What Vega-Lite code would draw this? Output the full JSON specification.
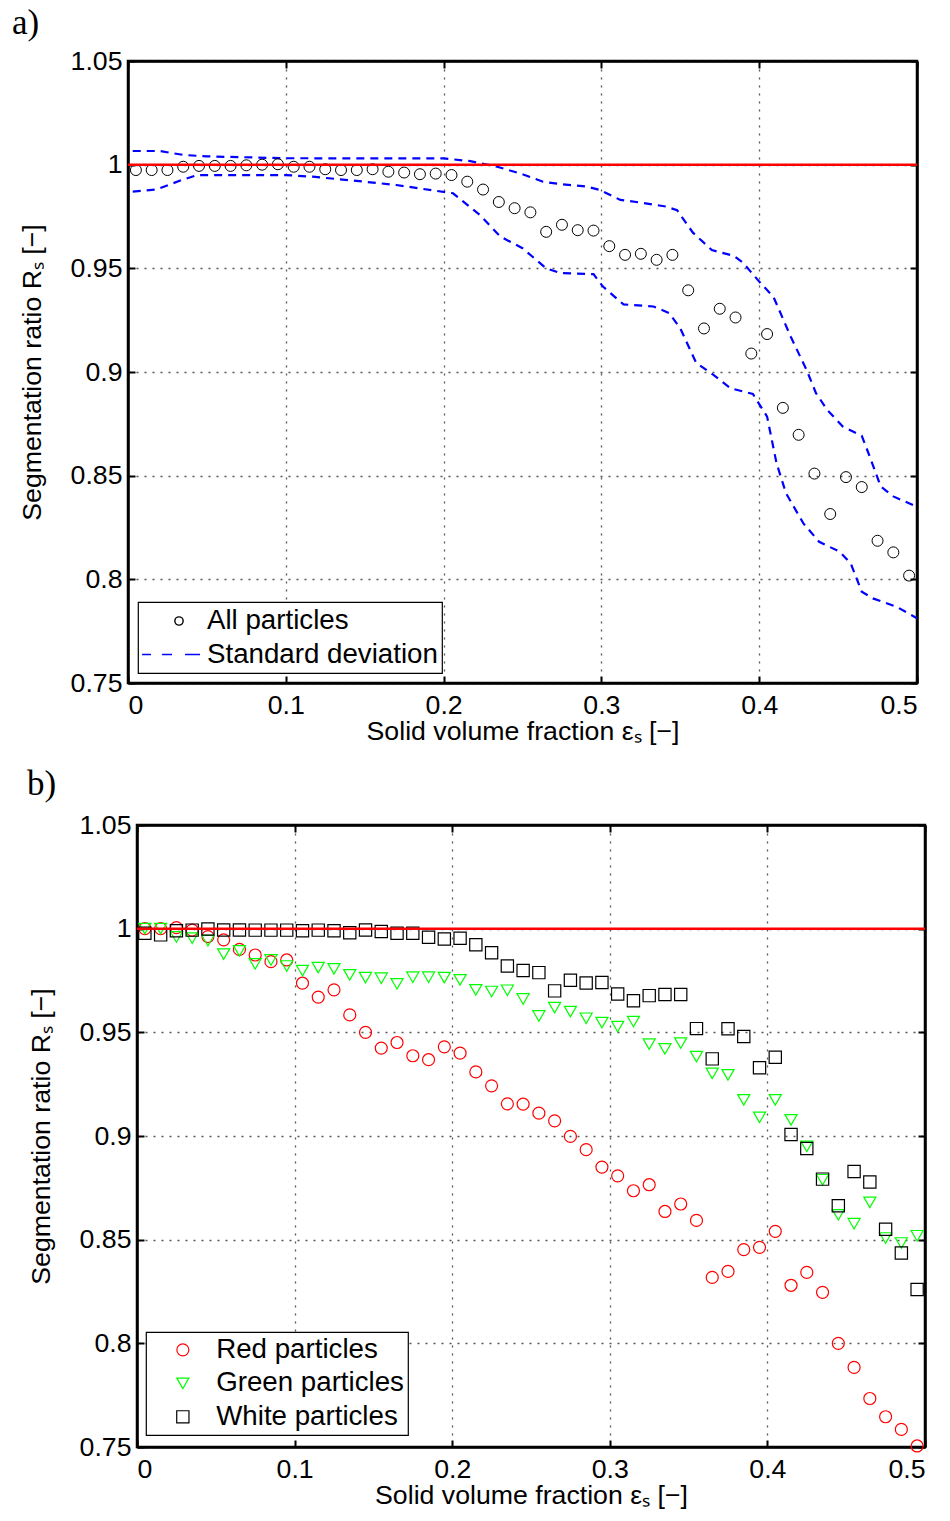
{
  "$schema": "https://vega.github.io/schema/vega-lite/v6.json",
  "background": "white",
  "padding": {"left": 9, "top": 4, "right": 10, "bottom": 6},
  "columns": 1,
  "spacing": 18,
  "resolve": {
    "scale": {"color": "independent", "shape": "independent", "size": "independent"},
    "legend": {"color": "independent", "shape": "independent", "size": "independent"}
  },
  "datasets": {
    "a_pts": [
      {"x":0.005,"y":0.9974},{"x":0.015,"y":0.9974},{"x":0.025,"y":0.9974},{"x":0.035,"y":0.999},{"x":0.045,"y":0.9994},
      {"x":0.055,"y":0.9994},{"x":0.065,"y":0.9994},{"x":0.075,"y":0.9997},{"x":0.085,"y":1.0},{"x":0.095,"y":1.0002},
      {"x":0.105,"y":0.999},{"x":0.115,"y":0.999},{"x":0.125,"y":0.9978},{"x":0.135,"y":0.9974},{"x":0.145,"y":0.9974},
      {"x":0.155,"y":0.9978},{"x":0.165,"y":0.9966},{"x":0.175,"y":0.9962},{"x":0.185,"y":0.9954},{"x":0.195,"y":0.9957},
      {"x":0.205,"y":0.995},{"x":0.215,"y":0.9918},{"x":0.225,"y":0.988},{"x":0.235,"y":0.982},{"x":0.245,"y":0.979},
      {"x":0.255,"y":0.977},{"x":0.265,"y":0.9676},{"x":0.275,"y":0.971},{"x":0.285,"y":0.9684},{"x":0.295,"y":0.9682},
      {"x":0.305,"y":0.9607},{"x":0.315,"y":0.9565},{"x":0.325,"y":0.957},{"x":0.335,"y":0.9541},{"x":0.345,"y":0.9565},
      {"x":0.355,"y":0.9394},{"x":0.365,"y":0.921},{"x":0.375,"y":0.9305},{"x":0.385,"y":0.9263},{"x":0.395,"y":0.9089},
      {"x":0.405,"y":0.9183},{"x":0.415,"y":0.8827},{"x":0.425,"y":0.8697},{"x":0.435,"y":0.851},{"x":0.445,"y":0.8315},
      {"x":0.455,"y":0.8493},{"x":0.465,"y":0.8445},{"x":0.475,"y":0.8186},{"x":0.485,"y":0.813},{"x":0.495,"y":0.8018}
    ],
    "a_std": [
      {"x":0.003,"y":1.0066,"bound":"upper"},{"x":0.02,"y":1.0066,"bound":"upper"},{"x":0.035,"y":1.0047,"bound":"upper"},
      {"x":0.05,"y":1.004,"bound":"upper"},{"x":0.1,"y":1.0031,"bound":"upper"},{"x":0.2,"y":1.003,"bound":"upper"},
      {"x":0.217,"y":1.0017,"bound":"upper"},{"x":0.234,"y":0.999,"bound":"upper"},{"x":0.248,"y":0.9959,"bound":"upper"},
      {"x":0.263,"y":0.9918,"bound":"upper"},{"x":0.274,"y":0.9906,"bound":"upper"},{"x":0.291,"y":0.9894,"bound":"upper"},
      {"x":0.299,"y":0.9878,"bound":"upper"},{"x":0.312,"y":0.983,"bound":"upper"},{"x":0.325,"y":0.9817,"bound":"upper"},
      {"x":0.341,"y":0.9798,"bound":"upper"},{"x":0.348,"y":0.978,"bound":"upper"},{"x":0.358,"y":0.9672,"bound":"upper"},
      {"x":0.37,"y":0.9588,"bound":"upper"},{"x":0.384,"y":0.956,"bound":"upper"},{"x":0.39,"y":0.9525,"bound":"upper"},
      {"x":0.4,"y":0.9436,"bound":"upper"},{"x":0.409,"y":0.9363,"bound":"upper"},{"x":0.42,"y":0.917,"bound":"upper"},
      {"x":0.43,"y":0.901,"bound":"upper"},{"x":0.436,"y":0.8898,"bound":"upper"},{"x":0.443,"y":0.8818,"bound":"upper"},
      {"x":0.453,"y":0.8737,"bound":"upper"},{"x":0.465,"y":0.8692,"bound":"upper"},{"x":0.47,"y":0.8593,"bound":"upper"},
      {"x":0.477,"y":0.8448,"bound":"upper"},{"x":0.485,"y":0.84,"bound":"upper"},{"x":0.5,"y":0.835,"bound":"upper"},
      {"x":0.003,"y":0.987,"bound":"lower"},{"x":0.018,"y":0.988,"bound":"lower"},{"x":0.034,"y":0.9926,"bound":"lower"},
      {"x":0.044,"y":0.995,"bound":"lower"},{"x":0.1,"y":0.995,"bound":"lower"},{"x":0.117,"y":0.9942,"bound":"lower"},
      {"x":0.143,"y":0.9923,"bound":"lower"},{"x":0.17,"y":0.9902,"bound":"lower"},{"x":0.194,"y":0.9875,"bound":"lower"},
      {"x":0.206,"y":0.9862,"bound":"lower"},{"x":0.223,"y":0.9757,"bound":"lower"},{"x":0.236,"y":0.9653,"bound":"lower"},
      {"x":0.25,"y":0.9597,"bound":"lower"},{"x":0.265,"y":0.95,"bound":"lower"},{"x":0.274,"y":0.9477,"bound":"lower"},
      {"x":0.295,"y":0.9472,"bound":"lower"},{"x":0.301,"y":0.9412,"bound":"lower"},{"x":0.314,"y":0.9326,"bound":"lower"},
      {"x":0.333,"y":0.9316,"bound":"lower"},{"x":0.343,"y":0.9284,"bound":"lower"},{"x":0.35,"y":0.921,"bound":"lower"},
      {"x":0.36,"y":0.9045,"bound":"lower"},{"x":0.371,"y":0.8986,"bound":"lower"},{"x":0.382,"y":0.8921,"bound":"lower"},
      {"x":0.396,"y":0.8894,"bound":"lower"},{"x":0.405,"y":0.8785,"bound":"lower"},{"x":0.411,"y":0.856,"bound":"lower"},
      {"x":0.417,"y":0.8415,"bound":"lower"},{"x":0.428,"y":0.827,"bound":"lower"},{"x":0.438,"y":0.8181,"bound":"lower"},
      {"x":0.451,"y":0.8133,"bound":"lower"},{"x":0.458,"y":0.8077,"bound":"lower"},{"x":0.465,"y":0.794,"bound":"lower"},
      {"x":0.472,"y":0.7908,"bound":"lower"},{"x":0.487,"y":0.7868,"bound":"lower"},{"x":0.5,"y":0.7812,"bound":"lower"}
    ],
    "b_pts": [
      {"x":0.005,"r":1.0,"g":1.0,"w":0.9978},{"x":0.015,"r":1.0,"g":1.0,"w":0.997},{"x":0.025,"r":1.0005,"g":0.996,"w":0.999},
      {"x":0.035,"r":0.9993,"g":0.9954,"w":0.9993},{"x":0.045,"r":0.9962,"g":0.9942,"w":0.9998},{"x":0.055,"r":0.9946,"g":0.9877,"w":0.9994},
      {"x":0.065,"r":0.99,"g":0.9893,"w":0.9994},{"x":0.075,"r":0.9873,"g":0.983,"w":0.9993},{"x":0.085,"r":0.9841,"g":0.9849,"w":0.9993},
      {"x":0.095,"r":0.9849,"g":0.982,"w":0.9993},{"x":0.105,"r":0.9737,"g":0.9798,"w":0.999},{"x":0.115,"r":0.967,"g":0.9812,"w":0.9993},
      {"x":0.125,"r":0.9705,"g":0.9806,"w":0.999},{"x":0.135,"r":0.9584,"g":0.9777,"w":0.998},{"x":0.145,"r":0.95,"g":0.9764,"w":0.9994},
      {"x":0.155,"r":0.9424,"g":0.9761,"w":0.9986},{"x":0.165,"r":0.9451,"g":0.9734,"w":0.9978},{"x":0.175,"r":0.9387,"g":0.9766,"w":0.9978},
      {"x":0.185,"r":0.9368,"g":0.9766,"w":0.9959},{"x":0.195,"r":0.943,"g":0.9764,"w":0.995},{"x":0.205,"r":0.94,"g":0.9753,"w":0.9954},
      {"x":0.215,"r":0.9309,"g":0.9705,"w":0.9922},{"x":0.225,"r":0.9242,"g":0.9697,"w":0.9884},{"x":0.235,"r":0.9155,"g":0.9703,"w":0.982},
      {"x":0.245,"r":0.9154,"g":0.9661,"w":0.9798},{"x":0.255,"r":0.911,"g":0.9579,"w":0.9788},{"x":0.265,"r":0.9073,"g":0.9619,"w":0.97},
      {"x":0.275,"r":0.8998,"g":0.96,"w":0.9751},{"x":0.285,"r":0.8934,"g":0.9568,"w":0.9738},{"x":0.295,"r":0.885,"g":0.9547,"w":0.974},
      {"x":0.305,"r":0.8808,"g":0.9528,"w":0.9685},{"x":0.315,"r":0.8736,"g":0.9552,"w":0.9652},{"x":0.325,"r":0.8765,"g":0.9443,"w":0.9677},
      {"x":0.335,"r":0.8636,"g":0.942,"w":0.9682},{"x":0.345,"r":0.8672,"g":0.9448,"w":0.9682},{"x":0.355,"r":0.8593,"g":0.9383,"w":0.9518},
      {"x":0.365,"r":0.8318,"g":0.9302,"w":0.9372},{"x":0.375,"r":0.8347,"g":0.9295,"w":0.9517},{"x":0.385,"r":0.8452,"g":0.9174,"w":0.948},
      {"x":0.395,"r":0.8463,"g":0.909,"w":0.9329},{"x":0.405,"r":0.854,"g":0.9174,"w":0.938},{"x":0.415,"r":0.828,"g":0.9078,"w":0.9007},
      {"x":0.425,"r":0.8342,"g":0.895,"w":0.894},{"x":0.435,"r":0.8246,"g":0.8789,"w":0.8792},{"x":0.445,"r":0.8,"g":0.862,"w":0.8664},
      {"x":0.455,"r":0.7884,"g":0.8577,"w":0.8829},{"x":0.465,"r":0.7734,"g":0.868,"w":0.8778},{"x":0.475,"r":0.7646,"g":0.8508,"w":0.855},
      {"x":0.485,"r":0.7585,"g":0.8484,"w":0.8436},{"x":0.495,"r":0.7505,"g":0.8519,"w":0.826}
    ],
    "ref": [{"y": 1}],
    "none": []
  },
  "config": {
    "font": "Liberation Sans",
    "view": {"stroke": "black", "strokeWidth": 2.5},
    "axis": {
      "labelFont": "Liberation Sans", "labelFontSize": 26.7, "labelColor": "black",
      "titleFont": "Liberation Sans", "titleFontSize": 26.7, "titleFontWeight": "normal", "titleColor": "black",
      "domainColor": "black", "domainWidth": 2.5,
      "tickColor": "black", "tickWidth": 2, "tickSize": -7,
      "gridColor": "#555555", "gridDash": [2, 6], "gridWidth": 1.3, "gridOpacity": 1
    },
    "axisX": {"labelPadding": 16, "titlePadding": 0},
    "axisY": {"labelPadding": 13, "titlePadding": 24},
    "legend": {
      "labelFont": "Liberation Sans", "labelFontSize": 27.7, "labelColor": "black", "labelLimit": 400,
      "strokeColor": "black", "strokeWidth": 1.2, "fillColor": "white", "padding": 4, "rowPadding": 4.5, "cornerRadius": 0
    },
    "title": {"anchor": "start", "frame": "bounds", "font": "Liberation Serif", "fontSize": 35, "fontWeight": "normal", "color": "black"}
  },
  "concat": [
    {
      "spacing": 0,
      "resolve": {
        "scale": {"color": "independent", "shape": "independent", "size": "independent"},
        "legend": {"color": "independent", "shape": "independent", "size": "independent"}
      },
      "hconcat": [
        {
          "width": 1, "height": 1,
          "view": {"stroke": null},
          "data": {"name": "none"},
          "mark": {"type": "point", "opacity": 0},
          "encoding": {}
        },
        {
          "title": {"text": "a)", "dx": -7, "offset": 7},
          "width": 789, "height": 622,
          "resolve": {"axis": {"x": "independent", "y": "independent"}},
          "layer": [
            {
              "data": {"name": "a_std"},
              "mark": {"type": "line", "color": "#0000FF", "strokeDash": [8, 6], "strokeWidth": 2.2, "clip": true},
              "encoding": {
                "x": {"field": "x", "type": "quantitative", "scale": {"domain": [0, 0.5], "nice": false, "zero": false}, "axis": {"values": [0, 0.1, 0.2, 0.3, 0.4, 0.5], "format": "~g", "title": "Solid volume fraction εₛ [−]"}},
                "y": {"field": "y", "type": "quantitative", "scale": {"domain": [0.75, 1.05], "nice": false, "zero": false}, "axis": {"values": [0.75, 0.8, 0.85, 0.9, 0.95, 1, 1.05], "format": "~g", "title": "Segmentation ratio Rₛ [−]"}},
                "detail": {"field": "bound", "type": "nominal"}
              }
            },
            {
              "data": {"name": "a_pts"},
              "transform": [{"calculate": "'All particles'", "as": "series"}],
              "mark": {"type": "point", "filled": false, "strokeWidth": 1, "size": 1381, "opacity": 1},
              "encoding": {
                "x": {"field": "x", "type": "quantitative", "axis": {"orient": "top", "values": [0, 0.1, 0.2, 0.3, 0.4, 0.5], "labels": false, "grid": false, "title": null}},
                "y": {"field": "y", "type": "quantitative", "axis": {"orient": "right", "values": [0.75, 0.8, 0.85, 0.9, 0.95, 1, 1.05], "labels": false, "grid": false, "title": null}},
                "color": {"field": "series", "type": "nominal", "scale": {"domain": ["All particles", "Standard deviation"], "range": ["black", "#0000FF"]},
                  "legend": {"title": null, "orient": "none", "legendX": 10, "legendY": 541, "symbolSize": 784, "symbolStrokeWidth": 1.4, "symbolOffset": 22, "labelOffset": 13}},
                "shape": {"field": "series", "type": "nominal", "scale": {"domain": ["All particles", "Standard deviation"], "range": ["M0.296,0A0.296,0.296,0,1,1,-0.296,0A0.296,0.296,0,1,1,0.296,0Z", "M-2.64,0H-2M-1.21,0H-0.5M0.43,0H1.5"]},
                  "legend": {"title": null, "orient": "none", "legendX": 10, "legendY": 541, "symbolSize": 784, "symbolStrokeWidth": 1.4, "symbolOffset": 22, "labelOffset": 13}}
              }
            },
            {
              "data": {"name": "ref"},
              "mark": {"type": "rule", "color": "#FF0000", "strokeWidth": 2.5},
              "encoding": {"y": {"field": "y", "type": "quantitative", "axis": null}}
            }
          ]
        }
      ]
    },
    {
      "spacing": 0,
      "resolve": {
        "scale": {"color": "independent", "shape": "independent", "size": "independent"},
        "legend": {"color": "independent", "shape": "independent", "size": "independent"}
      },
      "hconcat": [
        {
          "width": 16, "height": 1,
          "view": {"stroke": null},
          "data": {"name": "none"},
          "mark": {"type": "point", "opacity": 0},
          "encoding": {}
        },
        {
          "title": {"text": "b)", "dx": -1, "offset": 10},
          "width": 788, "height": 622,
          "resolve": {"axis": {"x": "independent", "y": "independent"}},
          "layer": [
            {
              "data": {"name": "b_pts"},
              "transform": [
                {"fold": ["r", "g", "w"], "as": ["key", "y"]},
                {"lookup": "key", "from": {"data": {"values": [{"key": "r", "series": "Red particles"}, {"key": "g", "series": "Green particles"}, {"key": "w", "series": "White particles"}]}, "key": "key", "fields": ["series"]}}
              ],
              "mark": {"type": "point", "filled": false, "strokeWidth": 1.2, "opacity": 1},
              "encoding": {
                "x": {"field": "x", "type": "quantitative", "scale": {"domain": [0, 0.5], "nice": false, "zero": false}, "axis": {"values": [0, 0.1, 0.2, 0.3, 0.4, 0.5], "format": "~g", "title": "Solid volume fraction εₛ [−]"}},
                "y": {"field": "y", "type": "quantitative", "scale": {"domain": [0.75, 1.05], "nice": false, "zero": false}, "axis": {"values": [0.75, 0.8, 0.85, 0.9, 0.95, 1, 1.05], "format": "~g", "title": "Segmentation ratio Rₛ [−]"}},
                "color": {"field": "series", "type": "nominal", "scale": {"domain": ["Red particles", "Green particles", "White particles"], "range": ["#FF0000", "#00FF00", "black"]},
                  "legend": {"title": null, "orient": "none", "legendX": 9, "legendY": 507, "symbolSize": 100, "symbolStrokeWidth": 1.2, "symbolOffset": 19, "labelOffset": 19.5}},
                "shape": {"field": "series", "type": "nominal", "scale": {"domain": ["Red particles", "Green particles", "White particles"], "range": ["circle", "triangle-down", "square"]},
                  "legend": {"title": null, "orient": "none", "legendX": 9, "legendY": 507, "symbolSize": 100, "symbolStrokeWidth": 1.2, "symbolOffset": 19, "labelOffset": 19.5}},
                "size": {"field": "series", "type": "nominal", "scale": {"domain": ["Red particles", "Green particles", "White particles"], "range": [144, 150, 64]}, "legend": null}
              }
            },
            {
              "data": {"name": "ref"},
              "mark": {"type": "rule", "color": "#FF0000", "strokeWidth": 2.5},
              "encoding": {
                "x": {"datum": 0, "type": "quantitative", "axis": {"orient": "top", "values": [0, 0.1, 0.2, 0.3, 0.4, 0.5], "labels": false, "grid": false, "title": null}},
                "x2": {"datum": 0.5},
                "y": {"field": "y", "type": "quantitative", "axis": {"orient": "right", "values": [0.75, 0.8, 0.85, 0.9, 0.95, 1, 1.05], "labels": false, "grid": false, "title": null}}
              }
            }
          ]
        }
      ]
    }
  ]
}
